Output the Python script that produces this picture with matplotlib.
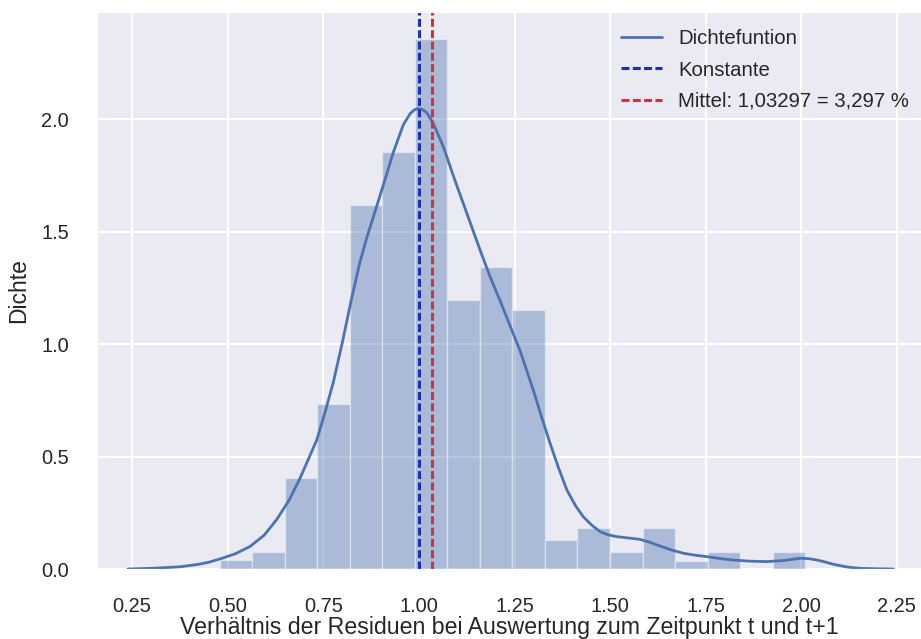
import numpy as np
import matplotlib
matplotlib.use("Agg")
import matplotlib.pyplot as plt
import seaborn as sns

data_min = 0.479
data_max = 2.010
n_bins = 18
dichte = [0.040, 0.077, 0.403, 0.736, 1.618, 1.855, 2.359, 1.196, 1.341,
          1.151, 0.129, 0.181, 0.077, 0.181, 0.036, 0.077, 0.0, 0.077]

kde_x = [0.239, 0.300, 0.375, 0.420, 0.450, 0.480, 0.520, 0.558, 0.595,
         0.628, 0.660, 0.688, 0.710, 0.733, 0.755, 0.776, 0.800, 0.823,
         0.845, 0.863, 0.887, 0.911, 0.933, 0.959, 0.977, 0.988, 0.998,
         1.008, 1.020, 1.038, 1.064, 1.094, 1.125, 1.160, 1.186, 1.212,
         1.243, 1.264, 1.299, 1.320, 1.343, 1.365, 1.387, 1.410, 1.430,
         1.452, 1.474, 1.495, 1.517, 1.548, 1.578, 1.605, 1.631, 1.660,
         1.692, 1.720, 1.753, 1.790, 1.822, 1.865, 1.910, 1.955, 1.997,
         2.020, 2.041, 2.063, 2.084, 2.120, 2.154, 2.200, 2.241]
kde_y = [0.000, 0.003, 0.010, 0.020, 0.030, 0.045, 0.068, 0.100, 0.150,
         0.220, 0.305, 0.400, 0.485, 0.575, 0.700, 0.830, 1.010, 1.196,
         1.360, 1.470, 1.600, 1.730, 1.853, 1.975, 2.025, 2.042, 2.048,
         2.044, 2.031, 1.980, 1.877, 1.729, 1.583, 1.418, 1.300, 1.194,
         1.062, 0.973, 0.796, 0.680, 0.559, 0.450, 0.351, 0.280, 0.232,
         0.195, 0.166, 0.152, 0.144, 0.138, 0.132, 0.118, 0.102, 0.085,
         0.070, 0.062, 0.055, 0.046, 0.040, 0.035, 0.033, 0.038, 0.048,
         0.046, 0.040, 0.031, 0.021, 0.009, 0.003, 0.001, 0.000]

konstante = 1.0
mittel = 1.03297

x_ticks = [0.25, 0.50, 0.75, 1.00, 1.25, 1.50, 1.75, 2.00, 2.25]
y_ticks = [0.0, 0.5, 1.0, 1.5, 2.0]

sns.set_style("darkgrid")
plt.rcParams['font.family'] = ['Liberation Sans', 'DejaVu Sans']

fig = plt.figure(figsize=(9.21, 6.39), dpi=100)
ax = fig.add_axes([0.1053, 0.1095, 0.8947, 0.8717])

edges = np.linspace(data_min, data_max, n_bins + 1)
ax.bar(edges[:-1], dichte, width=np.diff(edges), align='edge',
       color='#4C72B0', alpha=0.4, edgecolor='white', linewidth=1)
ax.plot(kde_x, kde_y, color='#4C72B0', linewidth=2, label='Dichtefuntion')
ax.axvline(konstante, color='#1f2fb0', linewidth=2.2,
           linestyle=(0, (2.6, 1.1)), label='Konstante')
ax.axvline(mittel, color='#cc3344', linewidth=2.2,
           linestyle=(0, (2.6, 1.1)), label='Mittel: 1,03297 = 3,297 %')

ax.set_xlim(0.158, 2.313)
ax.set_ylim(0, max(dichte) * 1.05)
ax.set_xticks(x_ticks)
ax.set_xticklabels([f'{t:.2f}' for t in x_ticks])
ax.set_yticks(y_ticks)
ax.set_yticklabels([f'{t:.1f}' for t in y_ticks])
ax.tick_params(axis='both', labelsize=14.4, pad=20, length=0, labelcolor='#262626')
ax.grid(True, color='white', linewidth=1.4)

ax.set_xlabel('Verhältnis der Residuen bei Auswertung zum Zeitpunkt t und t+1',
              fontsize=16.7, color='#262626', labelpad=0)
ax.set_ylabel('Dichte', fontsize=16.5, color='#262626', labelpad=8)

ax.legend(loc='upper right', bbox_to_anchor=(1.0, 0.991), frameon=False,
          fontsize=14.7, labelspacing=0.6, borderaxespad=0.2)

fig.savefig('out.png', dpi=100)
